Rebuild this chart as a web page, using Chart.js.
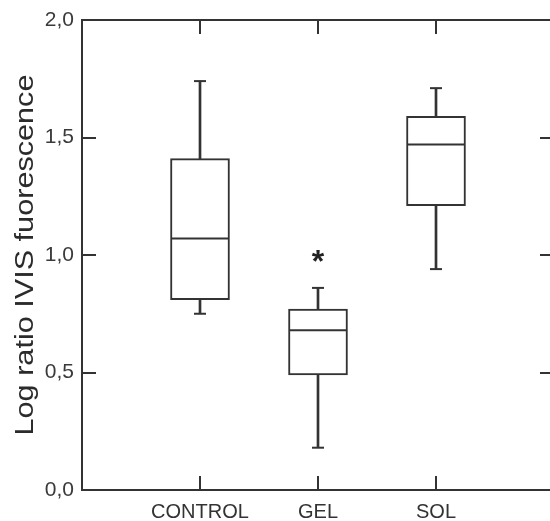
<!DOCTYPE html>
<html>
<head>
<meta charset="utf-8">
<script src="https://cdn.jsdelivr.net/npm/chart.js@4.4.1/dist/chart.umd.min.js"></script>
<style>
  html, body { margin: 0; padding: 0; background: #fff; overflow: hidden; }
  #contenedor { width: 560px; height: 521px; }
</style>
</head>
<body>
<div id="contenedor"><canvas id="graficoCajas"></canvas></div>
<script>
// Grupos y estadísticos de cada caja (log ratio de fluorescencia IVIS)
const categorias = ['CONTROL', 'GEL', 'SOL'];
const minimos  = [0.75, 0.18, 0.94];
const cuartil1 = [0.81, 0.49, 1.21];
const medianas = [1.07, 0.68, 1.47];
const cuartil3 = [1.41, 0.77, 1.59];
const maximos  = [1.74, 0.86, 1.71];
const significancia = ['', '*', ''];
const etiquetasY = ['0,0', '0,5', '1,0', '1,5', '2,0'];
const tituloY = 'Log ratio IVIS fuorescence';

const COLOR_LINEA = '#333';
const FUENTE = "'Liberation Sans', Arial, sans-serif";
const LARGO_MARCA = 14;

// Posición x de cada grupo en el eje lineal (1, 2, 3)
const posiciones = categorias.map((c, i) => i + 1);

// Marco completo, marcas hacia dentro, asterisco y título del eje Y
const marcoYTextos = {
    id: 'marcoYTextos',
    afterDatasetsDraw(chart) {
        const { ctx, chartArea: a, scales: { x, y } } = chart;
        ctx.save();
        ctx.strokeStyle = COLOR_LINEA;
        ctx.lineWidth = 2;
        ctx.strokeRect(a.left, a.top, a.right - a.left, a.bottom - a.top);

        ctx.beginPath();
        y.ticks.forEach(t => {
            const py = Math.round(y.getPixelForValue(t.value));
            ctx.moveTo(a.left, py); ctx.lineTo(a.left + LARGO_MARCA, py);
            ctx.moveTo(a.right, py); ctx.lineTo(a.right - LARGO_MARCA, py);
        });
        x.ticks.forEach(t => {
            const px = Math.round(x.getPixelForValue(t.value));
            ctx.moveTo(px, a.bottom); ctx.lineTo(px, a.bottom - LARGO_MARCA);
            ctx.moveTo(px, a.top); ctx.lineTo(px, a.top + LARGO_MARCA);
        });
        ctx.stroke();

        // Asterisco sobre el bigote superior
        ctx.fillStyle = '#222';
        ctx.font = 'bold 32px ' + FUENTE;
        ctx.textAlign = 'center';
        ctx.textBaseline = 'alphabetic';
        significancia.forEach((s, i) => {
            if (!s) return;
            const m = ctx.measureText(s);
            const cx = x.getPixelForValue(posiciones[i]);
            const cy = y.getPixelForValue(maximos[i]) - 32;
            const base = cy + (m.actualBoundingBoxAscent - m.actualBoundingBoxDescent) / 2;
            ctx.fillText(s, cx, base);
        });

        // Título del eje Y (girado y algo estirado)
        ctx.fillStyle = '#2b2b2b';
        ctx.font = '25px ' + FUENTE;
        ctx.translate(a.left - 49, (a.top + a.bottom) / 2);
        ctx.rotate(-Math.PI / 2);
        ctx.scale(1.225, 1);
        ctx.fillText(tituloY, 0, 0);
        ctx.restore();
    }
};

const ctx = document.getElementById('graficoCajas').getContext('2d');

new Chart(ctx, {
    type: 'bar',
    data: {
        datasets: [
            {
                // Medianas
                type: 'scatter',
                order: 0,
                data: posiciones.map((p, i) => ({ x: p, y: medianas[i] })),
                pointStyle: 'line',
                pointRadius: 28.5,
                pointBorderWidth: 2,
                borderColor: COLOR_LINEA
            },
            {
                // Topes de los bigotes
                type: 'scatter',
                order: 0,
                data: posiciones.map((p, i) => ({ x: p, y: maximos[i] }))
                    .concat(posiciones.map((p, i) => ({ x: p, y: minimos[i] }))),
                pointStyle: 'line',
                pointRadius: 6,
                pointBorderWidth: 2,
                borderColor: COLOR_LINEA
            },
            {
                // Cajas (Q1 a Q3)
                order: 1,
                data: posiciones.map((p, i) => ({ x: p, y: [cuartil1[i], cuartil3[i]] })),
                backgroundColor: '#fff',
                borderColor: COLOR_LINEA,
                borderWidth: 2,
                borderSkipped: false,
                barThickness: 59,
                grouped: false
            },
            {
                // Bigotes (mínimo a máximo)
                order: 2,
                data: posiciones.map((p, i) => ({ x: p, y: [minimos[i], maximos[i]] })),
                backgroundColor: COLOR_LINEA,
                borderWidth: 0,
                barThickness: 2,
                grouped: false
            }
        ]
    },
    options: {
        responsive: true,
        maintainAspectRatio: false,
        animation: false,
        events: [],
        layout: {
            autoPadding: false,
            padding: { top: 20, right: 6, left: 0, bottom: 0 }
        },
        plugins: {
            legend: { display: false },
            tooltip: { enabled: false }
        },
        scales: {
            x: {
                type: 'linear',
                min: 0,
                max: 4,
                offset: false,
                grid: { display: false, drawTicks: false },
                border: { display: false },
                afterBuildTicks: scale => {
                    scale.ticks = posiciones.map(p => ({ value: p }));
                },
                afterFit: scale => {
                    scale.height = 31;
                    scale.paddingLeft = 0;
                    scale.paddingRight = 0;
                },
                ticks: {
                    autoSkip: false,
                    maxRotation: 0,
                    padding: 10,
                    color: '#333',
                    font: { family: FUENTE, size: 20 },
                    callback: v => categorias[v - 1]
                }
            },
            y: {
                min: 0,
                max: 2,
                grid: { display: false, drawTicks: false },
                border: { display: false },
                afterFit: scale => {
                    scale.width = 82;
                    scale.paddingTop = 0;
                    scale.paddingBottom = 0;
                },
                ticks: {
                    stepSize: 0.5,
                    padding: 8,
                    color: '#3a3a3a',
                    font: { family: FUENTE, size: 21 },
                    callback: (v, i) => etiquetasY[i]
                }
            }
        }
    },
    plugins: [marcoYTextos]
});
</script>
</body>
</html>
